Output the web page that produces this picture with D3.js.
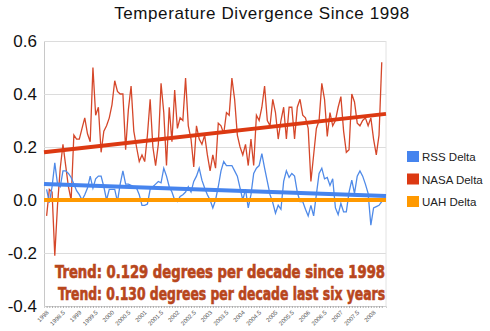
<!DOCTYPE html>
<html>
<head>
<meta charset="utf-8">
<script src="https://cdn.jsdelivr.net/npm/d3@7"></script>
<style>
body { margin: 0; background: #fff; }
svg { display: block; }
</style>
</head>
<body>
<script>
// monthly deltas, Jan 1998 onwards
const nasaDelta = [
  -0.06, 0.04, 0.03, -0.21, -0.02, 0.12, 0.21, 0.13, 0.05, 0.0,
  0.245, 0.23, 0.23, 0.27, 0.31, 0.25, 0.22, 0.50, 0.32, 0.35,
  0.18, 0.26, 0.28, 0.31, 0.36, 0.45, 0.41, 0.40, 0.40, 0.19,
  0.34, 0.43, 0.26, 0.20, 0.145, 0.17, 0.145, 0.245, 0.38, 0.20,
  0.13, 0.21, 0.44, 0.33, 0.13, 0.35, 0.22, 0.415, 0.27, 0.31,
  0.30, 0.46, 0.28, 0.23, 0.125, 0.28, 0.23, 0.21, 0.245, 0.17,
  0.11, 0.17, 0.12, 0.29, 0.28, 0.25, 0.33, 0.32, 0.46, 0.38,
  0.245, 0.20, 0.17, 0.21, 0.13, 0.23, 0.13, 0.32, 0.30, 0.35,
  0.43, 0.30, 0.28, 0.38, 0.33, 0.23, 0.30, 0.35, 0.23, 0.35,
  0.35, 0.23, 0.35, 0.38, 0.32, 0.31, 0.27, 0.07, 0.17, 0.27,
  0.30, 0.44, 0.38, 0.24, 0.33, 0.28, 0.30, 0.35, 0.39, 0.26,
  0.18, 0.19, 0.40, 0.37, 0.29, 0.28, 0.30, 0.31, 0.28, 0.31,
  0.23, 0.17, 0.245, 0.52
];
const rssDelta = [
  0.04, -0.01, 0.05, 0.14, 0.06, 0.05, 0.11, 0.11, 0.10, 0.085,
  0.06, 0.035, 0.02, 0.0, 0.02, 0.045, 0.09, 0.045, 0.08, 0.09,
  0.09, 0.05, 0.0, 0.04, 0.04, 0.04, -0.006, 0.06, 0.11, 0.06,
  0.06, 0.055, 0.05, 0.045, 0.02, -0.02, -0.02, -0.015, 0.04, 0.05,
  0.06, 0.07, 0.065, 0.12, 0.09, 0.05, 0.03, 0.0, -0.006, 0.013,
  0.02, 0.03, 0.05, 0.03, 0.07, 0.09, 0.12, 0.075, 0.045, 0.02,
  0.0, -0.03, 0.0, 0.05, 0.11, 0.145, 0.13, 0.13, 0.13, 0.11,
  0.09, 0.045, 0.0, 0.04, -0.03, 0.02, 0.10, 0.12, 0.13, 0.175,
  0.12, 0.07, 0.02, -0.01, -0.05, -0.02, -0.035, 0.07, 0.11, 0.085,
  0.10, 0.09, 0.03, -0.006, -0.006, -0.035, -0.06, -0.02, -0.06, 0.02,
  0.10, 0.12, 0.08, 0.085, 0.055, 0.08, -0.03, -0.055, -0.013, -0.045,
  -0.045, 0.03, 0.075, 0.025, 0.09, 0.11, 0.09, 0.06, 0.025, -0.095,
  -0.03, -0.025, -0.02, -0.006
];
// flat line and the two trend lines, values at left and right edge
const uahDelta = [0.0, 0.0];
const nasaTrend = [0.18, 0.325];
const rssTrend = [0.06, 0.015];

const xTickLabels = ["1998", "1998.5", "1999", "1999.5", "2000", "2000.5", "2001", "2001.5",
  "2002", "2002.5", "2003", "2003.5", "2004", "2004.5", "2005", "2005.5", "2006", "2006.5",
  "2007", "2007.5", "2008"];
const yTicks = [-0.4, -0.2, 0.0, 0.2, 0.4, 0.6];
const yTickLabels = ["-0.4", "-0.2", "0.0", "0.2", "0.4", "0.6"];
const seriesNames = ["RSS Delta", "NASA Delta", "UAH Delta"];

const colRss = "#4684ee";
const colNasa = "#dc3912";
const colUah = "#ff9900";

const W = 490, H = 331;
const plotL = 44, plotR = 386, plotT = 41, plotB = 306;

const svg = d3.select("body").append("svg")
  .attr("width", W)
  .attr("height", H)
  .style("font-family", "Arial, 'Liberation Sans', sans-serif");

const x = d3.scaleLinear().domain([1997.92, 2008.38]).range([plotL, plotR]);
const y = d3.scaleLinear().domain([-0.4, 0.6]).range([plotB, plotT]);
const month = i => 1998 + i / 12;

// title
svg.append("text")
  .attr("x", 262)
  .attr("y", 19)
  .attr("text-anchor", "middle")
  .attr("font-size", 17)
  .attr("letter-spacing", 0.6)
  .attr("fill", "#111")
  .text("Temperature Divergence Since 1998");

// gridlines + y labels
const yAxis = d3.axisLeft(y)
  .tickValues(yTicks)
  .tickSize(-(plotR - plotL))
  .tickPadding(8)
  .tickFormat((d, i) => yTickLabels[i]);
const gy = svg.append("g")
  .attr("transform", "translate(" + plotL + ",0)")
  .call(yAxis);
gy.select(".domain").attr("stroke", "#c8c8c8");
gy.selectAll(".tick line").attr("stroke", "#dcdcdc");
gy.selectAll(".tick text")
  .attr("font-size", 17)
  .attr("fill", "#111")
  .attr("x", -7)
  .attr("dy", "0.62em")
  .attr("y", -5);

// right border
svg.append("line")
  .attr("x1", plotR).attr("x2", plotR)
  .attr("y1", plotT).attr("y2", plotB)
  .attr("stroke", "#e2e2e2");

// monthly minor ticks on bottom
const months = nasaDelta.map((d, i) => month(i));
const gMinor = svg.append("g")
  .attr("transform", "translate(0," + plotB + ")")
  .call(d3.axisBottom(x).tickValues(months).tickSize(2).tickFormat(""));
gMinor.select(".domain").attr("stroke", "#d0d0d0");
gMinor.selectAll(".tick line").attr("stroke", "#aaa");

// half-year labels
const gx = svg.append("g")
  .attr("transform", "translate(0," + plotB + ")")
  .call(d3.axisBottom(x).tickValues(xTickLabels.map(Number)).tickSize(0)
    .tickFormat((d, i) => xTickLabels[i]));
gx.select(".domain").remove();
gx.selectAll(".tick text")
  .attr("font-size", 6)
  .attr("fill", "#555")
  .attr("text-anchor", "end")
  .attr("dy", 0)
  .attr("y", 0)
  .attr("transform", "translate(2,7) rotate(-45)");

const line = d3.line()
  .x((d, i) => x(month(i)))
  .y(d => y(d));
const edgeLine = d3.line()
  .x((d, i) => x.range()[i])
  .y(d => y(d));

svg.append("path").datum(nasaDelta)
  .attr("d", line).attr("fill", "none")
  .attr("stroke", "#d5472a").attr("stroke-width", 1.3);
svg.append("path").datum(rssDelta)
  .attr("d", line).attr("fill", "none")
  .attr("stroke", "#4f8ae8").attr("stroke-width", 1.3);

svg.append("path").datum(uahDelta)
  .attr("d", edgeLine).attr("fill", "none")
  .attr("stroke", colUah).attr("stroke-width", 4);
svg.append("path").datum(rssTrend)
  .attr("d", edgeLine).attr("fill", "none")
  .attr("stroke", colRss).attr("stroke-width", 4);
svg.append("path").datum(nasaTrend)
  .attr("d", edgeLine).attr("fill", "none")
  .attr("stroke", colNasa).attr("stroke-width", 4);

// legend
const legend = svg.append("g").attr("transform", "translate(407,151)");
const colors = [colRss, colNasa, colUah];
seriesNames.forEach((name, i) => {
  legend.append("rect")
    .attr("x", 0).attr("y", i * 22.5)
    .attr("width", 12).attr("height", 11)
    .attr("fill", colors[i]);
  legend.append("text")
    .attr("x", 15).attr("y", i * 22.5 + 10)
    .attr("font-size", 11.5)
    .attr("fill", "#222")
    .text(name);
});

// trend notes
const notes = [
  { t: "Trend: 0.129 degrees per decade since 1998", x: 55, y: 278 },
  { t: "Trend: 0.130 degrees per decade last six years", x: 58, y: 300 }
];
notes.forEach(n => {
  svg.append("text")
    .attr("x", n.x).attr("y", n.y)
    .attr("font-family", "'DejaVu Sans Condensed', 'DejaVu Sans', sans-serif")
    .attr("font-weight", "bold")
    .attr("font-size", 17)
    .attr("fill", "#b8461c")
    .attr("stroke", "#b8461c")
    .attr("stroke-width", 0.6)
    .attr("textLength", 385 - n.x)
    .attr("lengthAdjust", "spacingAndGlyphs")
    .text(n.t);
});
</script>
</body>
</html>
